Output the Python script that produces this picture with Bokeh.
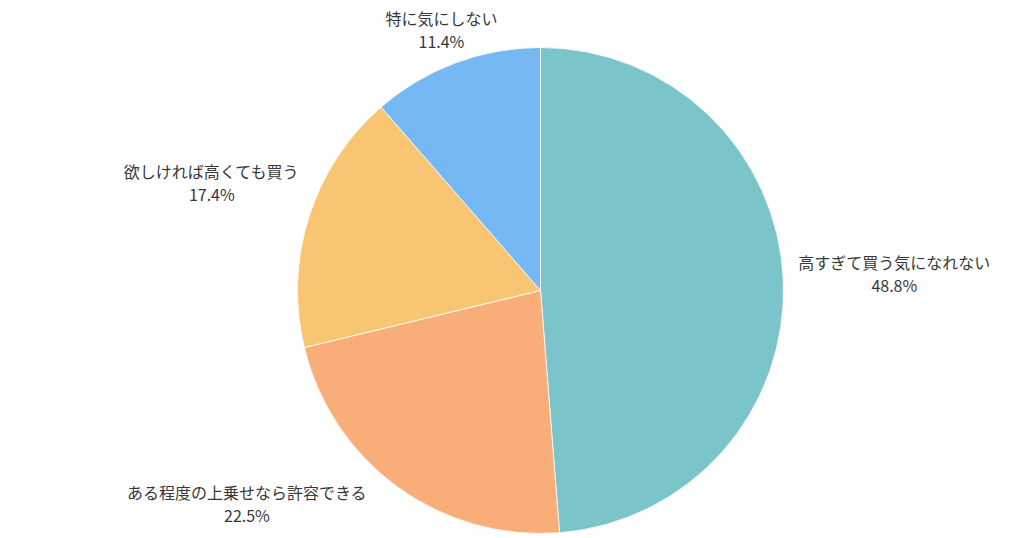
import math
from bokeh.plotting import figure
from bokeh.models import Range1d, ColumnDataSource
from bokeh.core.properties import value
from bokeh.embed import file_html
from bokeh.resources import INLINE

# ---- data ----
categories = ["高すぎて買う気になれない", "ある程度の上乗せなら許容できる", "欲しければ高くても買う", "特に気にしない"]
shares = [48.8, 22.5, 17.4, 11.4]
pct_labels = ["48.8%", "22.5%", "17.4%", "11.4%"]
colors = ["#7BC4C9", "#F9AD78", "#F8C673", "#76B8F3"]

# ---- layout / style ----
W, H = 1024, 538
CX, CY, R = 540, 248, 243
FONT = "Noto Sans CJK JP"
FS = 16
LINE = 23
OFF = 10
PAD = 5
BASE_SHIFT = 3

p = figure(width=W, height=H, output_backend="svg", toolbar_location=None,
           x_range=Range1d(0, W), y_range=Range1d(0, H), min_border=0)
p.axis.visible = False
p.grid.visible = False
p.outline_line_color = None
p.background_fill_color = "white"

total = sum(shares)
starts, ends, mids = [], [], []
acc = 0.0
for s in shares:
    a0 = math.pi / 2 - 2 * math.pi * acc / total
    acc += s
    a1 = math.pi / 2 - 2 * math.pi * acc / total
    starts.append(a0)
    ends.append(a1)
    mids.append((a0 + a1) / 2)

src = ColumnDataSource(dict(x=[CX] * len(shares), y=[CY] * len(shares),
                            start=starts, end=ends, color=colors))
p.wedge(x="x", y="y", radius=R, start_angle="start", end_angle="end",
        direction="clock", fill_color="color", line_color="white",
        line_width=0.8, source=src)

lx, ly1, ly2 = [], [], []
for name, m in zip(categories, mids):
    c, s = math.cos(m), math.sin(m)
    ax, ay = CX + (R + OFF) * c, CY + (R + OFF) * s
    tw = len(name) * FS
    w = tw / 2 + PAD
    h = LINE + PAD
    d = min(w / max(abs(c), 1e-9), h / max(abs(s), 1e-9))
    bx, by = ax + d * c, ay + d * s
    if by - h < 0:
        by = h + 4
        if c < 0:
            bx = ax - OFF - 3 * PAD - tw / 2
        else:
            bx = ax + OFF + 3 * PAD + tw / 2
    if by + h > H:
        by = H - h - 4
    by += BASE_SHIFT
    lx.append(bx)
    ly1.append(by + LINE / 2)
    ly2.append(by - LINE / 2)

p.text(x=lx, y=ly1, text=categories, text_font=value(FONT), text_font_size=f"{FS}px",
       text_color="#383838", text_align="center", text_baseline="middle")
p.text(x=lx, y=ly2, text=pct_labels, text_font=value(FONT), text_font_size=f"{FS}px",
       text_color="#383838", text_align="center", text_baseline="middle")

open("out.html", "w").write(file_html(p, INLINE))
